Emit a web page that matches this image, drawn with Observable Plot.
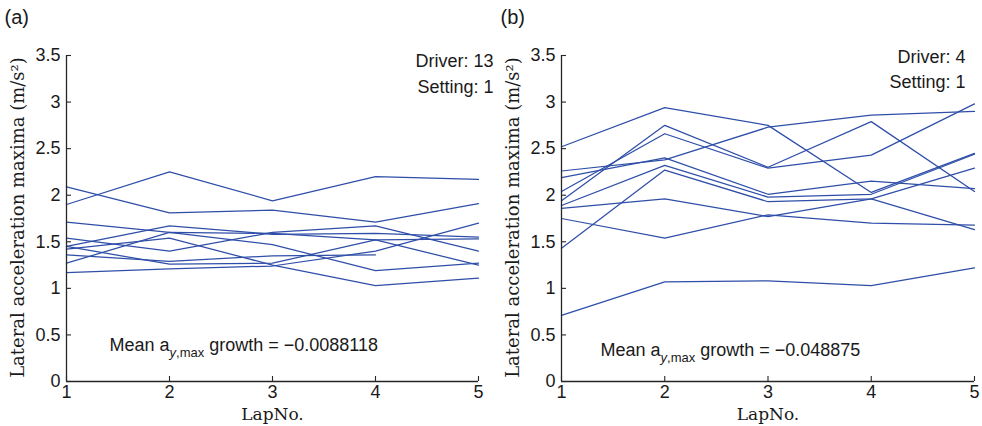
<!DOCTYPE html>
<html>
<head>
<meta charset="utf-8">
<script src="https://cdn.jsdelivr.net/npm/d3@7"></script>
<script src="https://cdn.jsdelivr.net/npm/@observablehq/plot@0.6"></script>
<style>
  html, body { margin: 0; padding: 0; background: #fff; }
  #row { display: flex; width: 982px; height: 426px; }
  #row svg { flex: none; }
</style>
</head>
<body>
<div id="row"></div>
<script>
// ---- data ----
const laps = [1, 2, 3, 4, 5];
const xTicks = [1, 2, 3, 4, 5];
const yTicks = [0, 0.5, 1, 1.5, 2, 2.5, 3, 3.5];

// panel (a): driver 13, setting 1 — one row per run, values per lap (null = no lap)
const driver13Runs = [
  [1.90, 2.25, 1.94, 2.20, 2.17],
  [2.09, 1.81, 1.84, 1.71, 1.91],
  [1.71, 1.60, 1.47, 1.19, 1.27],
  [1.54, 1.40, 1.60, 1.67, 1.40],
  [1.45, 1.67, 1.58, 1.59, 1.55],
  [1.42, 1.54, 1.25, 1.03, 1.11],
  [1.36, 1.29, 1.35, 1.36, null],
  [1.27, 1.60, 1.59, 1.52, 1.53],
  [1.45, 1.26, 1.27, 1.52, 1.25],
  [1.17, 1.21, 1.24, 1.40, 1.70]
];
// panel (b): driver 4, setting 1
const driver4Runs = [
  [2.52, 2.94, 2.75, 2.03, 2.45],
  [2.26, 2.38, 2.73, 2.86, 2.90],
  [2.19, 2.40, 2.01, 2.15, 2.07],
  [2.04, 2.66, 2.29, 2.43, 2.98],
  [1.94, 2.75, 2.30, 2.79, 2.04],
  [1.89, 2.32, 1.98, 2.01, 2.44],
  [1.43, 2.27, 1.93, 1.96, 2.29],
  [1.86, 1.96, 1.77, 1.96, 1.63],
  [1.75, 1.54, 1.79, 1.70, 1.68],
  [0.71, 1.07, 1.08, 1.03, 1.22]
];

const panelTags = ["(a)", "(b)"];
const drivers = ["Driver: 13", "Driver: 4"];
const settings = ["Setting: 1", "Setting: 1"];
const growths = ["\u22120.0088118", "\u22120.048875"];
const xLabel = "LapNo.";
const yLabel = "Lateral acceleration maxima (m/s\u00B2)";

// ---- helpers ----
function toRows(runs) {
  const rows = [];
  runs.forEach((vals, r) => vals.forEach((v, i) => {
    if (v != null) rows.push({run: r, lap: laps[i], value: v});
  }));
  return rows;
}

const SANS = "'Liberation Sans', Arial, Helvetica, sans-serif";
const SERIF = "'DejaVu Serif', serif";
const LINE = "#2f4ea8";
const AXIS = "#262626";
const INK = "#1a1a1a";

function panel(i, runs, L) {
  const W = L.W, H = 426;
  const mT = 55, mB = 45;
  const mL = L.mL, mR = L.mR;
  const pw = W - mL - mR, ph = H - mT - mB;
  const meanText = "Mean a" + "y,max" + " growth = " + growths[i];
  const svg = Plot.plot({
    width: W, height: H,
    marginLeft: mL, marginRight: mR, marginTop: mT, marginBottom: mB,
    x: {domain: [1, 5]},
    y: {domain: [0, 3.5]},
    style: {fontFamily: SANS, fontSize: "18px", color: INK, background: "transparent", overflow: "visible"},
    marks: [
      Plot.line(toRows(runs), {x: "lap", y: "value", z: "run", stroke: LINE, strokeWidth: 1.25}),
      // axes lines
      Plot.ruleX([1], {stroke: AXIS, strokeWidth: 1.3}),
      Plot.ruleY([0], {stroke: AXIS, strokeWidth: 1.3}),
      // inward ticks
      Plot.tickY(yTicks, {y: d => d, stroke: AXIS, strokeWidth: 1.1, insetRight: pw - 5}),
      Plot.tickX(xTicks, {x: d => d, stroke: AXIS, strokeWidth: 1.1, insetTop: ph - 5}),
      // tick labels
      Plot.axisY(yTicks, {tickSize: 0, tickPadding: 6, label: null, fontSize: 18, fill: INK, tickFormat: d => `${d}`}),
      Plot.axisX(xTicks, {tickSize: 0, tickPadding: 4, label: null, fontSize: 18, fill: INK, tickFormat: d => `${d}`}),
      // axis titles
      Plot.text([xLabel], {frameAnchor: "bottom", dy: 33, textAnchor: "middle", lineAnchor: "middle", fontFamily: SERIF, fontSize: 17, fill: INK, letterSpacing: "1.5px"}),
      Plot.text([yLabel], {frameAnchor: "left", rotate: -90, dx: L.yLabDx, dy: -1, textAnchor: "middle", lineAnchor: "middle", fontFamily: SERIF, fontSize: 18, fill: INK, letterSpacing: "1.6px"}),
      // panel tag
      Plot.text([panelTags[i]], {frameAnchor: "top-left", dx: L.tagDx, dy: -38, textAnchor: "start", lineAnchor: "middle", fontSize: 20, fill: INK}),
      // driver / setting
      Plot.text([drivers[i]], {frameAnchor: "top-right", dx: L.drvDx, dy: L.drvDy, textAnchor: "end", lineAnchor: "middle", fontSize: 18, fill: INK}),
      Plot.text([settings[i]], {frameAnchor: "top-right", dx: L.drvDx, dy: L.setDy, textAnchor: "end", lineAnchor: "middle", fontSize: 18, fill: INK}),
      // mean growth
      Plot.text([meanText], {frameAnchor: "bottom-left", dx: L.meanDx, dy: L.meanDy, textAnchor: "start", lineAnchor: "middle", fontSize: 18, fill: INK})
    ]
  });
  // subscript for a_{y,max}
  d3.select(svg).selectAll("text").each(function() {
    if (this.textContent !== meanText) return;
    const t = d3.select(this);
    t.text(null);
    t.append("tspan").text("Mean a");
    t.append("tspan").attr("dy", 6).attr("font-size", 13).attr("font-style", "italic").text("y");
    t.append("tspan").attr("font-size", 13).text(",max");
    t.append("tspan").attr("dy", -6).text(" growth = " + growths[i]);
  });
  return svg;
}

const row = document.getElementById("row");
row.appendChild(panel(0, driver13Runs, {W: 500, mL: 66, mR: 22, yLabDx: -48, tagDx: -62, drvDx: 15, drvDy: 6, setDy: 32, meanDx: 43, meanDy: -36}));
row.appendChild(panel(1, driver4Runs, {W: 482, mL: 61, mR: 8, yLabDx: -48, tagDx: -61, drvDx: -9, drvDy: 2, setDy: 27, meanDx: 39, meanDy: -31}));
</script>
</body>
</html>
